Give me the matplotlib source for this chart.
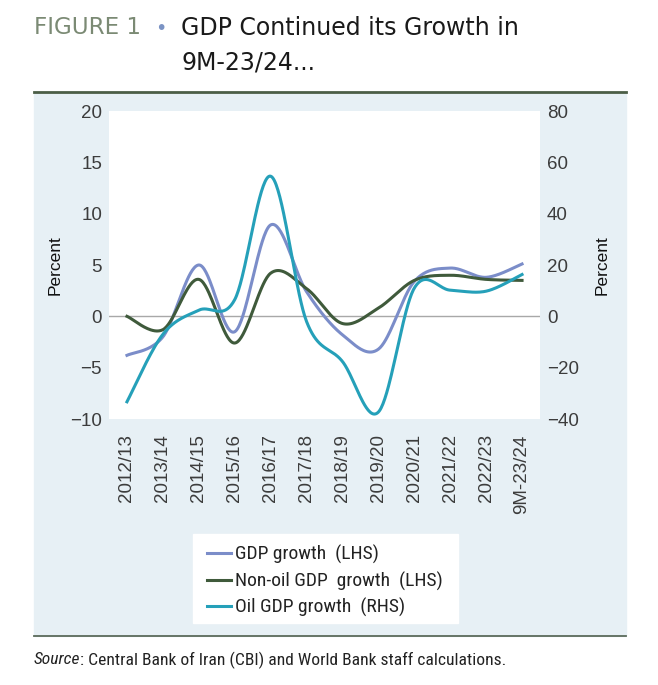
import numpy as np
import matplotlib
matplotlib.use("Agg")
import matplotlib.pyplot as plt
from matplotlib.patches import Rectangle
from matplotlib.lines import Line2D

years = ["2012/13", "2013/14", "2014/15", "2015/16", "2016/17", "2017/18",
         "2018/19", "2019/20", "2020/21", "2021/22", "2022/23", "9M-23/24"]
gdp_growth = [-3.8, -2.0, 5.0, -1.5, 8.9, 2.4, -1.8, -3.2, 3.4, 4.7, 3.8, 5.1]
nonoil_growth = [0.0, -1.3, 3.6, -2.6, 4.2, 2.7, -0.7, 0.8, 3.5, 4.0, 3.6, 3.5]
oil_growth = [-33.3, -7.0, 2.4, 6.5, 54.6, -2.0, -17.6, -37.3, 11.0, 10.2, 9.8, 16.3]

c_gdp = "#7b8dc9"
c_nonoil = "#3f5a3b"
c_oil = "#25a0b9"
panel_bg = "#e7f0f5"
tick_col = "#3c3c3c"
narrow = ["Liberation Sans Narrow", "Roboto Condensed", "Roboto"]


def smooth(xs, ys, n=40):
    # Excel-style smoothed line (Bezier with 1/6 control points)
    xs = np.asarray(xs, float)
    ys = np.asarray(ys, float)
    px = np.concatenate([[xs[0]], xs, [xs[-1]]])
    py = np.concatenate([[ys[0]], ys, [ys[-1]]])
    out_x, out_y = [], []
    t = np.linspace(0, 1, n)
    for i in range(1, len(px) - 2):
        p0 = np.array([px[i], py[i]])
        p3 = np.array([px[i + 1], py[i + 1]])
        p1 = p0 + (np.array([px[i + 1], py[i + 1]]) - np.array([px[i - 1], py[i - 1]])) / 6
        p2 = p3 - (np.array([px[i + 2], py[i + 2]]) - np.array([px[i], py[i]])) / 6
        b = ((1 - t) ** 3)[:, None] * p0 + (3 * (1 - t) ** 2 * t)[:, None] * p1 \
            + (3 * (1 - t) * t ** 2)[:, None] * p2 + (t ** 3)[:, None] * p3
        out_x.extend(b[:, 0])
        out_y.extend(b[:, 1])
    return np.array(out_x), np.array(out_y)


fig = plt.figure(figsize=(6.58, 6.85), dpi=100)
W, H = 658, 685

def fx(px):
    return px / W

def fy(py):
    return 1 - py / H

# panel background, rules and legend box
fig.patches.append(Rectangle((fx(34), fy(636)), fx(626) - fx(34), fy(93) - fy(636),
                             transform=fig.transFigure, color=panel_bg, zorder=-5))
fig.patches.append(Rectangle((fx(193), fy(623)), fx(458) - fx(193), fy(534) - fy(623),
                             transform=fig.transFigure, color="white", zorder=-4))
fig.lines.append(Line2D([fx(34), fx(626)], [fy(92), fy(92)], transform=fig.transFigure,
                        color="#4b5e46", lw=2.0, zorder=-4))
fig.lines.append(Line2D([fx(34), fx(626)], [fy(636), fy(636)], transform=fig.transFigure,
                        color="#5b6b5a", lw=1.3, zorder=-4))

# title
fig.text(fx(34), fy(28), "FIGURE 1", fontsize=16.6, color="#7b8a74", family="DejaVu Sans",
         va="center", ha="left")
fig.text(fx(161), fy(29), "\u2022", fontsize=14, color="#7b93c4", va="center", ha="center")
fig.text(fx(181), fy(28), "GDP Continued its Growth in", fontsize=17, color="#1a1a1a",
         family="DejaVu Sans", va="center", ha="left")
fig.text(fx(181), fy(62), "9M-23/24...", fontsize=17, color="#1a1a1a",
         family="DejaVu Sans", va="center", ha="left")

# source
src = fig.text(fx(34), fy(660), "Source", fontsize=12.6, style="italic", color="#222222",
               family=narrow, va="center", ha="left")
fig.canvas.draw()
bb = src.get_window_extent()
fig.text(bb.x1 / W, fy(660), ": Central Bank of Iran (CBI) and World Bank staff calculations.",
         fontsize=12.6, color="#222222", family=narrow, va="center", ha="left")

ax = fig.add_axes([fx(109), fy(419), fx(540) - fx(109), fy(111) - fy(419)])
ax.set_facecolor("white")
ax2 = ax.twinx()

x = np.arange(len(years))
ax.axhline(0, color="#a8a8a8", lw=1.0, zorder=1)
sx, sy = smooth(x, gdp_growth)
ax.plot(sx, sy, color=c_gdp, lw=2.2, zorder=3)
sx, sy = smooth(x, nonoil_growth)
ax.plot(sx, sy, color=c_nonoil, lw=2.2, zorder=3)
sx, sy = smooth(x, oil_growth)
ax2.plot(sx, sy, color=c_oil, lw=2.2, zorder=3)

ax.set_xlim(-0.5, len(years) - 0.5)
ax.set_ylim(-10, 20)
ax2.set_ylim(-40, 80)
ax.set_yticks(np.arange(-10, 21, 5))
ax2.set_yticks(np.arange(-40, 81, 20))
ax.set_yticklabels([str(v).replace("-", "\u2212") for v in range(-10, 21, 5)])
ax2.set_yticklabels([str(v).replace("-", "\u2212") for v in range(-40, 81, 20)])
ax.set_xticks(x)
ax.set_xticklabels(years, rotation=90)

for a in (ax, ax2):
    for s in a.spines.values():
        s.set_visible(False)
    a.tick_params(length=0, labelsize=13.5, labelcolor=tick_col)
    for lab in a.get_yticklabels() + a.get_xticklabels():
        lab.set_family("Liberation Sans")
ax.tick_params(axis="x", pad=11, labelsize=13.5)
ax.tick_params(axis="y", pad=5)
ax2.tick_params(axis="y", pad=5)

fig.text(fx(55.5), fy(265), "Percent", rotation=90, fontsize=12.5, family="Liberation Sans",
         color="#111111", va="center", ha="center")
fig.text(fx(602), fy(265), "Percent", rotation=90, fontsize=12.5, family="Liberation Sans",
         color="#111111", va="center", ha="center")

handles = [Line2D([], [], color=c_gdp, lw=2.2),
           Line2D([], [], color=c_nonoil, lw=2.2),
           Line2D([], [], color=c_oil, lw=2.2)]
labels = ["GDP growth  (LHS)", "Non-oil GDP  growth  (LHS)", "Oil GDP growth  (RHS)"]
leg = fig.legend(handles, labels, loc="upper left", bbox_to_anchor=(fx(207), fy(545)),
                 frameon=False, prop={"family": narrow, "size": 14},
                 handlelength=1.25, handletextpad=0.2, labelspacing=0.38,
                 borderpad=0, borderaxespad=0)
for t in leg.get_texts():
    t.set_color("#222222")

fig.savefig("out.png", dpi=100)
